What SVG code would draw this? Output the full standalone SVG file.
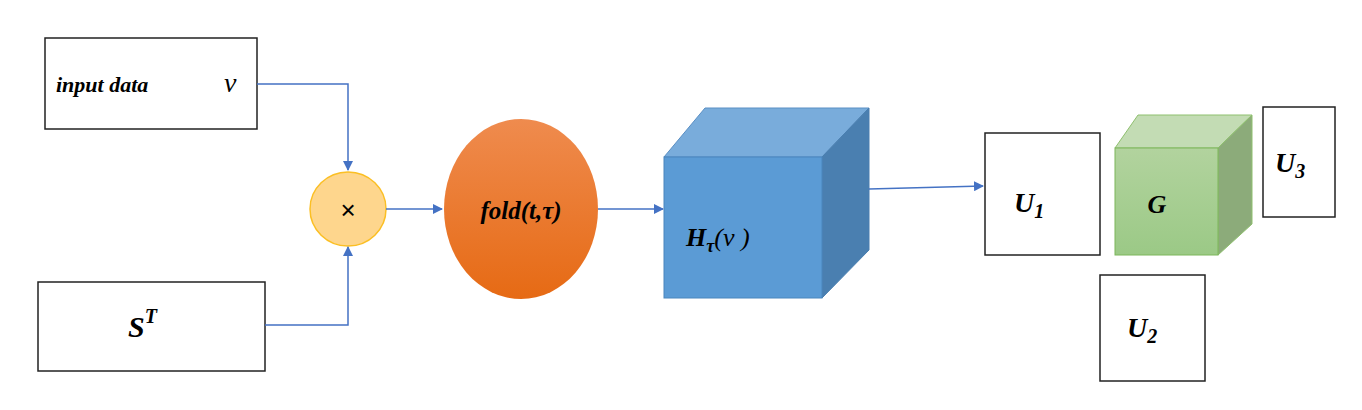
<svg xmlns="http://www.w3.org/2000/svg" width="1362" height="410" viewBox="0 0 1362 410">
<defs>
<style>
.box{fill:#fff;stroke:#222;stroke-width:1.5}
.t{font-family:"Liberation Serif",serif;font-style:italic;font-weight:bold;fill:#000}
.c{fill:none;stroke:#4472c4;stroke-width:1.5}
</style>
<marker id="a" markerWidth="10" markerHeight="10" refX="9" refY="5" orient="auto" markerUnits="userSpaceOnUse"><path d="M0,0 L10,5 L0,10 z" fill="#4472c4"/></marker>
<linearGradient id="og" x1="0" y1="0" x2="0" y2="1"><stop offset="0" stop-color="#ef8b4e"/><stop offset="1" stop-color="#e66a14"/></linearGradient>
<linearGradient id="gg" x1="0" y1="0" x2="0" y2="1"><stop offset="0" stop-color="#b2d39e"/><stop offset="1" stop-color="#9bc986"/></linearGradient>
</defs>
<g id="input"><rect class="box" x="45" y="38" width="212" height="91"/><text class="t" x="56" y="92" font-size="22" font-weight="normal">input data</text><text x="224" y="92" font-family="Liberation Serif,serif" font-style="italic" font-size="28">v</text></g>
<g id="st"><rect class="box" x="38" y="282" width="227" height="89"/><text class="t" x="128" y="337" font-size="30">S<tspan font-size="20" dy="-14">T</tspan></text></g>
<g id="mult"><ellipse cx="348" cy="209" rx="38" ry="37" fill="#fed68d" stroke="#fbbf24" stroke-width="1.5"/><text x="348" y="219" font-family="Liberation Sans,sans-serif" font-size="26" text-anchor="middle">×</text></g>
<g id="fold"><ellipse cx="521" cy="209" rx="77" ry="90" fill="url(#og)"/><text class="t" x="521" y="219" font-size="25" text-anchor="middle">fold(t,τ)</text></g>
<g id="H"><polygon points="664,157 705,108 869,108 822,157" fill="#79acdb" stroke="#5a8fc4"/><polygon points="822,157 869,108 869,250 822,298" fill="#4a7fb0" stroke="#4a7fb0"/><rect x="664" y="157" width="158" height="141" fill="#5b9bd5" stroke="#4a86bd"/><text class="t" x="686" y="246" font-size="26">H<tspan font-size="18" dy="6">τ</tspan><tspan dy="-6" font-weight="normal">(</tspan><tspan font-weight="normal">v )</tspan></text></g>
<g id="U1"><rect class="box" x="985" y="133" width="115" height="122"/><text class="t" x="1014" y="212" font-size="28">U<tspan font-size="20" dy="6">1</tspan></text></g>
<g id="G"><polygon points="1115,148 1138,115 1252,115 1218,148" fill="#c3dcb4" stroke="#8fc06f"/><polygon points="1218,148 1252,115 1252,224 1218,255" fill="#8cab7a" stroke="#8fc06f"/><rect x="1115" y="148" width="103" height="107" fill="url(#gg)" stroke="#7db65a"/><text class="t" x="1157" y="213" font-size="26" text-anchor="middle">G</text></g>
<g id="U3"><rect class="box" x="1263" y="107" width="72" height="110"/><text class="t" x="1275" y="172" font-size="28">U<tspan font-size="20" dy="6">3</tspan></text></g>
<g id="U2"><rect class="box" x="1100" y="275" width="105" height="106"/><text class="t" x="1127" y="337" font-size="28">U<tspan font-size="20" dy="6">2</tspan></text></g>
<g id="connectors">
<path class="c" d="M257,84 H348 V170" marker-end="url(#a)"/>
<path class="c" d="M265,325 H348 V247" marker-end="url(#a)"/>
<path class="c" d="M386,209 H442" marker-end="url(#a)"/>
<path class="c" d="M598,209 H663" marker-end="url(#a)"/>
<path class="c" d="M869,189 L983,186" marker-end="url(#a)"/>
</g>
</svg>
